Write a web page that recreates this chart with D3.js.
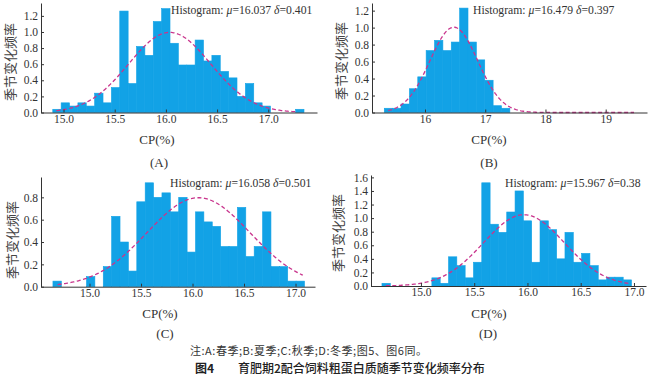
<!DOCTYPE html>
<html><head><meta charset="utf-8">
<script src="https://cdn.jsdelivr.net/npm/d3@7"></script>
<style>body{margin:0;background:#fff}</style>
</head><body><svg id="c" width="650" height="380"></svg>
<script>
// ---------------- data ----------------
const heightsA = [0.04,0.12,0.08,0.12,0.08,0.24,0.12,0.31,1.26,0.36,0.82,0.71,1.13,1.29,0.86,0.59,0.59,0.90,0.64,0.71,0.51,0.43,0.20,0.36,0.12,0.08,0,0,0,0.04];
const binStartA = 14.895, binWidthA = 0.0818;
const muA = 16.037, sigmaA = 0.401;
const curveRangeA = [14.93, 17.27];
const xTicksA = [15.0,15.5,16.0,16.5,17.0];
const yTicksA = [0,0.2,0.4,0.6,0.8,1.0,1.2];

const heightsB = [0.05,0.05,0.10,0.28,0.42,0.73,0.85,0.73,0.83,1.23,0.83,0.62,0.38,0.08,0.05];
const binStartB = 15.324, binWidthB = 0.139;
const muB = 16.479, sigmaB = 0.397;
const curveRangeB = [15.39, 19.47];
const xTicksB = [16,17,18,19];
const yTicksB = [0,0.2,0.4,0.6,0.8,1.0,1.2];

const heightsC = [0.05,0,0,0,0.09,0,0.18,0.63,0.40,0.14,0.76,0.93,0.80,0.84,0.67,0.80,0.31,0.67,0.58,0.54,0.36,0.36,0.71,0.27,0.36,0.67,0.18,0.18,0.05,0.05];
const binStartC = 14.645, binWidthC = 0.0814;
const muC = 16.058, sigmaC = 0.501;
const curveRangeC = [14.69, 17.07];
const xTicksC = [15.0,15.5,16.0,16.5,17.0];
const yTicksC = [0,0.2,0.4,0.6,0.8];

const heightsD = [0.04,0,0,0,0,0,0.12,0.04,0.43,0.30,0.12,0.35,1.52,0.91,0.79,1.09,1.40,0.96,0.35,0.96,0.83,0.40,0.79,0.35,0.48,0.30,0.09,0.13,0.13,0.09];
const binStartD = 14.634, binWidthD = 0.0781;
const muD = 15.967, sigmaD = 0.38;
const curveRangeD = [14.67, 16.97];
const xTicksD = [15.0,15.5,16.0,16.5,17.0];
const yTicksD = [0,0.2,0.4,0.6,0.8,1.0,1.2,1.4,1.6];

const annA = ["16.037","0.401"], annB = ["16.479","0.397"], annC = ["16.058","0.501"], annD = ["15.967","0.38"];
const tags = ["(A)","(B)","(C)","(D)"];
const xLabel = "CP(%)";
const yLabel = "季节变化频率";
const note = "注:A:春季;B:夏季;C:秋季;D:冬季;图5、图6同。";
const figNo = "图4";
const title = "育肥期2配合饲料粗蛋白质随季节变化频率分布";

// ---------------- layout ----------------
const panels = [
  {h:heightsA, bs:binStartA, bw:binWidthA, mu:muA, sd:sigmaA, cr:curveRangeA, xt:xTicksA, yt:yTicksA, xf:".1f", ann:annA, tag:tags[0],
   x0:41, x1:317, yb:112.5, yt0:3, xd:[14.780,17.476], yd:[0,1.36], annPos:[171,14], ylPos:[9,62], xlPos:[157,144], tagPos:[159,166.5]},
  {h:heightsB, bs:binStartB, bw:binWidthB, mu:muB, sd:sigmaB, cr:curveRangeB, xt:xTicksB, yt:yTicksB, xf:"d", ann:annB, tag:tags[1],
   x0:372, x1:647, yb:112.5, yt0:3, xd:[15.120,19.686], yd:[0,1.29], annPos:[473,14], ylPos:[340,61], xlPos:[489,144], tagPos:[489,166.5]},
  {h:heightsC, bs:binStartC, bw:binWidthC, mu:muC, sd:sigmaC, cr:curveRangeC, xt:xTicksC, yt:yTicksC, xf:".1f", ann:annC, tag:tags[2],
   x0:41, x1:315, yb:286.7, yt0:177, xd:[14.529,17.189], yd:[0,0.982], annPos:[170,187], ylPos:[11.5,240], xlPos:[160,318], tagPos:[165,337.5]},
  {h:heightsD, bs:binStartD, bw:binWidthD, mu:muD, sd:sigmaD, cr:curveRangeD, xt:xTicksD, yt:yTicksD, xf:".1f", ann:annD, tag:tags[3],
   x0:371, x1:646, yb:286, yt0:175, xd:[14.531,17.113], yd:[0,1.635], annPos:[505,187], ylPos:[337.5,233], xlPos:[489,318], tagPos:[488,337.5]}
];

const svg = d3.select("#c");
const serif = "'Liberation Serif','Times New Roman',serif";
const cjk = "'Noto Sans CJK SC','Noto Sans CJK JP',sans-serif";
const barColor = "#12a2e6", curveColor = "#c9358d", ink = "#333";

panels.forEach(p => {
  const xs = d3.scaleLinear().domain(p.xd).range([p.x0, p.x1]);
  const ys = d3.scaleLinear().domain(p.yd).range([p.yb, p.yt0]);
  const g = svg.append("g");

  // bars
  g.selectAll("rect.bar").data(p.h.map((v,i)=>({v,i})).filter(d=>d.v>0)).enter().append("rect")
    .attr("x", d => xs(p.bs + d.i*p.bw))
    .attr("width", d => xs(p.bs + (d.i+1)*p.bw) - xs(p.bs + d.i*p.bw))
    .attr("y", d => ys(d.v))
    .attr("height", d => ys(0) - ys(d.v))
    .attr("fill", barColor).attr("stroke", barColor).attr("stroke-width", 0.6);

  // fitted normal curve
  const n = 200;
  const pts = d3.range(n+1).map(k => {
    const x = p.cr[0] + (p.cr[1]-p.cr[0])*k/n;
    const y = Math.exp(-((x-p.mu)**2)/(2*p.sd*p.sd)) / (p.sd*Math.sqrt(2*Math.PI));
    return [x,y];
  });
  g.append("path").attr("d", d3.line().x(d=>xs(d[0])).y(d=>ys(d[1]))(pts))
    .attr("fill","none").attr("stroke",curveColor).attr("stroke-width",1.3).attr("stroke-dasharray","4,2.5");

  // axes
  const xa = g.append("g").attr("transform",`translate(0,${p.yb})`)
    .call(d3.axisBottom(xs).tickValues(p.xt).tickFormat(d3.format(p.xf)).tickSizeInner(-3).tickSizeOuter(0).tickPadding(2));
  const ya = g.append("g").attr("transform",`translate(${p.x0},0)`)
    .call(d3.axisLeft(ys).tickValues(p.yt).tickFormat(d3.format(".1f")).tickSizeInner(-3).tickSizeOuter(0).tickPadding(3));
  [xa,ya].forEach(a => {
    a.select(".domain").attr("stroke",ink);
    a.selectAll(".tick line").attr("stroke",ink);
    a.selectAll("text").attr("fill",ink).style("font-family",serif).style("font-size","11.5px");
  });

  // annotation
  const t = g.append("text").attr("x",p.annPos[0]).attr("y",p.annPos[1])
    .style("font-family",serif).style("font-size","11.7px").attr("fill",ink);
  t.append("tspan").text("Histogram: ");
  t.append("tspan").style("font-style","italic").text("μ");
  t.append("tspan").text("=" + p.ann[0] + " ");
  t.append("tspan").style("font-style","italic").text("δ");
  t.append("tspan").text("=" + p.ann[1]);

  // y label
  g.append("text").attr("transform",`translate(${p.ylPos[0]},${p.ylPos[1]}) rotate(-90)`)
    .attr("text-anchor","middle").attr("dominant-baseline","central")
    .style("font-family",cjk).style("font-size","13px").attr("fill","#444").text(yLabel);

  // x label & tag
  g.append("text").attr("x",p.xlPos[0]).attr("y",p.xlPos[1]).attr("text-anchor","middle")
    .style("font-family",serif).style("font-size","13px").attr("fill",ink).text(xLabel);
  g.append("text").attr("x",p.tagPos[0]).attr("y",p.tagPos[1]).attr("text-anchor","middle")
    .style("font-family",serif).style("font-size","13px").attr("fill",ink).text(p.tag);
});

// captions
svg.append("text").attr("x",190).attr("y",354.5)
  .attr("textLength",237).attr("lengthAdjust","spacing")
  .style("font-family",cjk).style("font-size","11px").attr("fill",ink).text(note);
const cap = svg.append("text").attr("x",195).attr("y",373)
  .style("font-family",cjk).style("font-size","12px").attr("fill","#222");
cap.append("tspan").style("font-weight","bold").text(figNo);
cap.append("tspan").attr("x",238).style("font-weight","500").text(title);
</script>
</body></html>
